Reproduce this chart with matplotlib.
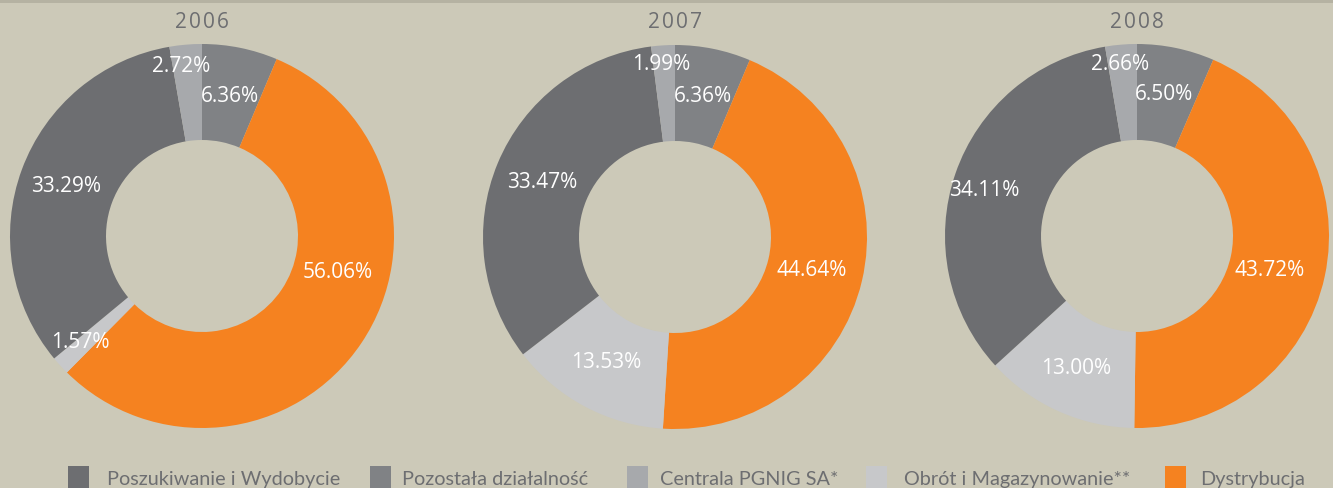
import matplotlib
matplotlib.use('Agg')
import matplotlib.pyplot as plt
from matplotlib.patches import Rectangle

W, H = 1333, 488

# data
categories = ['Poszukiwanie i Wydobycie', 'Pozostała działalność', 'Centrala PGNIG SA*',
              'Obrót i Magazynowanie**', 'Dystrybucja']
years = ['2006', '2007', '2008']
share_2006 = [33.29, 6.36, 2.72, 1.57, 56.06]
share_2007 = [33.47, 6.36, 1.99, 13.53, 44.64]
share_2008 = [34.11, 6.50, 2.66, 13.00, 43.72]
shares = [share_2006, share_2007, share_2008]

colors = ['#6d6e71', '#808285', '#a7a9ac', '#c7c8ca', '#f58220']
# clockwise order from 12 o'clock
pie_order = [1, 4, 3, 0, 2]

# layout (pixels, y from top)
centers = [(202, 236), (675, 237), (1137, 236)]
radius = 192
label_offsets = [
    [(-136, -49), (28, -139), (-21, -169), (-122, 106), (136, 36)],
    [(-133, -54), (28, -140), (-14, -173), (-69, 126), (137, 34)],
    [(-153, -46), (27, -142), (-17, -172), (-61, 133), (133, 34)],
]
legend_box_x = [68, 370, 627, 866, 1165]
legend_text_x = [107, 402, 660, 904, 1200]

bg = '#ccc9b8'
txt_grey = '#6d6e71'

fig = plt.figure(figsize=(W / 100, H / 100), dpi=100, facecolor=bg)
ax = fig.add_axes([0, 0, 1, 1])

ax.add_patch(Rectangle((0, H - 3), W, 3, color='#b5b2a2', lw=0))

for i, year in enumerate(years):
    cx, cy = centers[i]
    vals = [shares[i][k] for k in pie_order]
    cols = [colors[k] for k in pie_order]
    ax.pie(vals, colors=cols, startangle=90, counterclock=False,
           center=(cx, H - cy), radius=radius,
           wedgeprops=dict(width=radius * 0.5, linewidth=0))
    ax.text(cx, H - 22, '\u200a'.join(year), ha='center', va='center',
            fontsize=15, color=txt_grey, family='Open Sans')
    for k in range(len(categories)):
        dx, dy = label_offsets[i][k]
        ax.text(cx + dx, H - (cy + dy), f'{shares[i][k]:.2f}%', ha='center',
                va='center', fontsize=15, color='white', family='Open Sans')

for k, name in enumerate(categories):
    ax.add_patch(Rectangle((legend_box_x[k], 0), 21, H - 466, color=colors[k], lw=0))
    ax.text(legend_text_x[k], H - 485, name, ha='left', va='baseline', fontsize=14.3,
            color=txt_grey, family='Lato')

ax.set_xlim(0, W)
ax.set_ylim(0, H)
ax.set_aspect('equal')
ax.axis('off')

fig.savefig('out.png', dpi=100, facecolor=bg)
